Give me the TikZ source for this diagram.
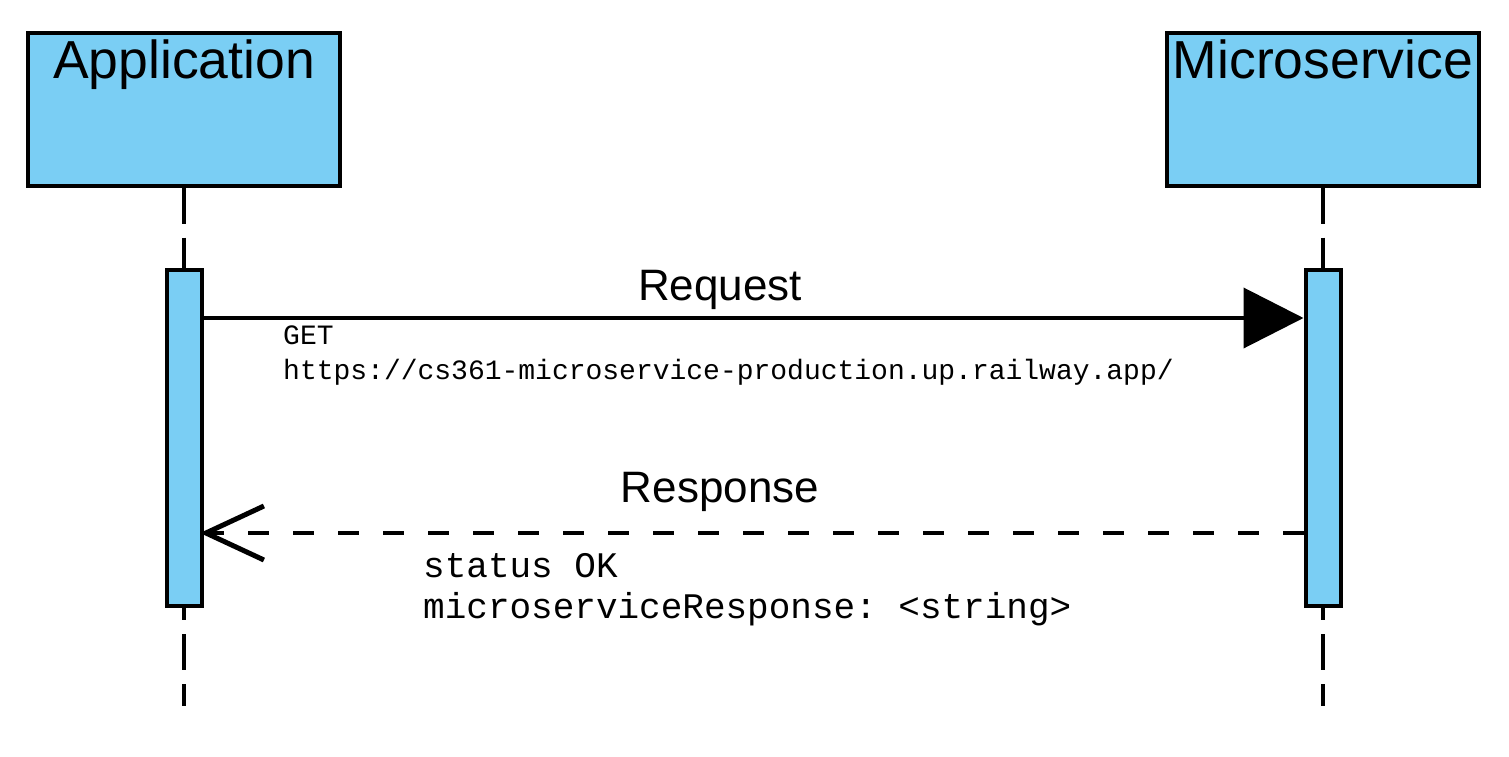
\documentclass[tikz,border=0pt]{standalone}
\usepackage{fontspec}
\setmainfont{Liberation Sans}
\setmonofont{Liberation Mono}
\usetikzlibrary{arrows.meta}
\definecolor{actorblue}{RGB}{122,206,244}

\tikzset{
  actorbox/.style = {draw = black, fill = actorblue, line width = 4pt, minimum width = 312pt, minimum height = 153pt, inner sep = 0pt},
  actorname/.style = {anchor = north, inner sep = 9pt, font = \fontsize{53.5}{60}\selectfont},
  activation/.style = {draw = black, fill = actorblue, line width = 4pt, minimum width = 35pt, minimum height = 336pt, inner sep = 0pt},
  lifeline/.style = {black, line width = 4pt, dash pattern = on 35.6pt off 14pt},
  msgname/.style = {anchor = base, font = \fontsize{44}{50}\selectfont},
  codetext/.style = {anchor = north west, inner sep = 0pt, align = left}
}

\begin{document}
\begin{tikzpicture} [x = 1pt, y = -1pt]
\useasboundingbox (0, 0) rectangle (1509, 757);
% actors
\node[actorbox] (app) at (184, 109.5) {};
\node[actorbox] (micro) at (1323, 109.5) {};
\node[actorname] (appname) at (app.north) {Application};
\node[actorname] (microname) at (micro.north) {Microservice};
% lifelines
\coordinate (append) at (184, 706);
\coordinate (microend) at (1323, 706);
\draw[lifeline] (app.south) -- (append);
\draw[lifeline] (micro.south) -- (microend);
% activations
\node[activation] (appbar) at (184.5, 438) {};
\node[activation] (microbar) at (1323, 438) {};
% messages
\coordinate (reqy) at (0, 318);
\coordinate (resy) at (0, 533);
\draw[black, line width = 4pt, -{Triangle[length = 60pt, width = 60pt]}] (appbar.east |- reqy) -- (microbar.west |- reqy);
\draw[black, line width = 4pt, dash pattern = on 21pt off 24pt, shorten > = -4pt, -{Straight Barb[length = 58pt, width = 54pt, line width = 5pt]}] (microbar.west |- resy) -- (appbar.east |- resy);
\node[msgname] (reqname) at (720, 300) {Request};
\node[msgname] (resname) at (720, 502) {Response};
\node[codetext, font = \ttfamily\fontsize{28}{35}\selectfont] (reqcode) at (283, 326) {GET\\https://cs361-microservice-production.up.railway.app/};
\node[codetext, font = \ttfamily\fontsize{36}{41}\selectfont] (rescode) at (423, 553) {status OK\\microserviceResponse: <string>};
\end{tikzpicture}
\end{document}
